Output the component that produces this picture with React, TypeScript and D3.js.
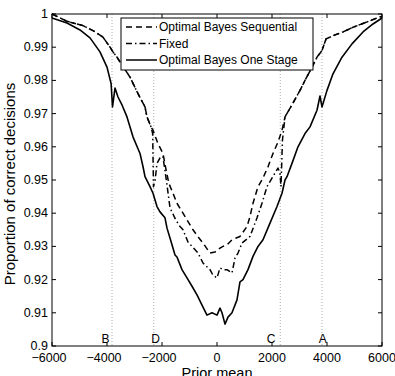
import React from 'react';
import * as d3 from 'd3';

// x positions of the prior mean thresholds and their letters
const thresholdValues = [-3818, -2300, 2300, 3818];
const thresholdLetters = [
  { label: 'B', x: -4050 },
  { label: 'D', x: -2230 },
  { label: 'C', x: 1970 },
  { label: 'A', x: 3850 },
];

const xTicks = [-6000, -4000, -2000, 0, 2000, 4000, 6000];
const yTicks = [0.9, 0.91, 0.92, 0.93, 0.94, 0.95, 0.96, 0.97, 0.98, 0.99, 1];

// Optimal Bayes sequential  [prior mean, proportion correct]
const sequential: [number, number][] = [
  [-6000, 1.0], [-5455, 0.9978], [-4873, 0.9965], [-4509, 0.995], [-4145, 0.993],
  [-3890, 0.99], [-3782, 0.9886], [-3636, 0.987], [-3455, 0.9846], [-3164, 0.981],
  [-2873, 0.976], [-2618, 0.972], [-2545, 0.969], [-2400, 0.966], [-2327, 0.965],
  [-2150, 0.961], [-1964, 0.958], [-1850, 0.953], [-1750, 0.949], [-1600, 0.946],
  [-1455, 0.943], [-1273, 0.9405], [-1091, 0.938], [-873, 0.935], [-700, 0.933],
  [-509, 0.931], [-255, 0.928], [-73, 0.9283], [109, 0.9295], [218, 0.93],
  [364, 0.9305], [545, 0.932], [836, 0.933], [1091, 0.936], [1200, 0.939],
  [1309, 0.943], [1491, 0.948], [1673, 0.9506], [1855, 0.954], [2036, 0.958],
  [2218, 0.9614], [2364, 0.965], [2473, 0.969], [2764, 0.9732], [3018, 0.977],
  [3200, 0.98], [3455, 0.984], [3636, 0.987], [3818, 0.989], [3964, 0.9925],
  [4291, 0.9937], [4582, 0.9946], [4945, 0.996], [5455, 0.9976], [5818, 0.9988],
  [6000, 0.9993],
];

// Fixed design
const fixed: [number, number][] = [
  [-6000, 1.0], [-5455, 0.9978], [-4873, 0.9965], [-4509, 0.995], [-4145, 0.993],
  [-3890, 0.99], [-3782, 0.9886], [-3636, 0.987], [-3455, 0.9846], [-3164, 0.981],
  [-2873, 0.976], [-2618, 0.972], [-2545, 0.969], [-2400, 0.966], [-2340, 0.964],
  [-2310, 0.948], [-2250, 0.95], [-2182, 0.955], [-2050, 0.957], [-1964, 0.957],
  [-1818, 0.9485], [-1709, 0.9416], [-1500, 0.938], [-1345, 0.936], [-1236, 0.935],
  [-1055, 0.9313], [-909, 0.93], [-691, 0.928], [-509, 0.925], [-255, 0.923],
  [-150, 0.9214], [0, 0.9205], [109, 0.9235], [218, 0.923], [364, 0.923],
  [545, 0.922], [655, 0.9265], [764, 0.928], [909, 0.931], [1200, 0.933],
  [1455, 0.9386], [1636, 0.943], [1818, 0.948], [2000, 0.9506], [2218, 0.9536],
  [2290, 0.952], [2327, 0.948], [2380, 0.962], [2473, 0.969], [2764, 0.9732],
  [3018, 0.977], [3200, 0.98], [3455, 0.984], [3636, 0.987], [3818, 0.989],
  [3964, 0.9925], [4291, 0.9937], [4582, 0.9946], [4945, 0.996], [5455, 0.9976],
  [5818, 0.9988], [6000, 0.9993],
];

// Optimal Bayes one stage
const oneStage: [number, number][] = [
  [-6000, 0.9988], [-5455, 0.9973], [-4982, 0.9952], [-4618, 0.9928], [-4255, 0.9886],
  [-4000, 0.984], [-3850, 0.979], [-3800, 0.972], [-3709, 0.9777], [-3600, 0.975],
  [-3455, 0.9726], [-3273, 0.969], [-3055, 0.963], [-2800, 0.958], [-2690, 0.954],
  [-2618, 0.951], [-2436, 0.948], [-2327, 0.946], [-2182, 0.942], [-2073, 0.9404],
  [-1891, 0.9386], [-1818, 0.9355], [-1709, 0.9325], [-1527, 0.9274], [-1455, 0.9268],
  [-1273, 0.923], [-1091, 0.9205], [-909, 0.918], [-727, 0.9154], [-545, 0.9123],
  [-364, 0.9093], [-182, 0.91], [0, 0.9093], [109, 0.9114], [182, 0.91],
  [291, 0.9066], [400, 0.9087], [545, 0.91], [727, 0.9139], [836, 0.9193],
  [945, 0.92], [1127, 0.923], [1309, 0.927], [1491, 0.93], [1673, 0.932],
  [1927, 0.937], [2182, 0.942], [2364, 0.946], [2473, 0.95], [2545, 0.951],
  [2727, 0.955], [2945, 0.96], [3200, 0.964], [3382, 0.966], [3636, 0.971],
  [3745, 0.9753], [3818, 0.972], [4000, 0.977], [4218, 0.982], [4545, 0.987],
  [4909, 0.991], [5309, 0.9946], [5673, 0.997], [6000, 0.9988],
];

const seriesNames = ['Optimal Bayes Sequential', 'Fixed', 'Optimal Bayes One Stage'];
const seriesDash = ['6,4', '6,3,1.5,3', null];

const width = 395;
const height = 376;
const plot = { left: 52, right: 382, top: 14, bottom: 346 };
const font = '"Liberation Sans", Arial, sans-serif';

const App = () => {
  const x = d3.scaleLinear().domain([-6000, 6000]).range([plot.left, plot.right]);
  const y = d3.scaleLinear().domain([0.9, 1]).range([plot.bottom, plot.top]);

  const line = d3.line<[number, number]>()
    .x(d => x(d[0]))
    .y(d => y(d[1]));

  const allSeries = [sequential, fixed, oneStage];
  const tickLen = 4;
  const fmtX = (v: number) => (v < 0 ? '\u2212' + Math.abs(v) : String(v));

  const legend = { x: 121, y: 18, w: 192, h: 52 };

  return (
    <svg
      width={width}
      height={height}
      style={{ position: 'absolute', left: 0, top: 0, background: '#fff' }}
      fontFamily={font}
    >
      <rect width={width} height={height} fill="#fff" />

      {/* threshold guides */}
      {thresholdValues.map(v => (
        <line
          key={v}
          x1={x(v)} x2={x(v)} y1={plot.top} y2={plot.bottom}
          stroke="#999" strokeWidth={0.8} strokeDasharray="1,2"
        />
      ))}
      {thresholdLetters.map(t => (
        <text key={t.label} x={x(t.x)} y={plot.bottom - 3} fontSize={12} textAnchor="middle">
          {t.label}
        </text>
      ))}

      {/* curves */}
      {allSeries.map((s, i) => (
        <path
          key={i}
          d={line(s) || ''}
          fill="none"
          stroke="#000"
          strokeWidth={i === 2 ? 1.6 : 1.5}
          strokeDasharray={seriesDash[i] || undefined}
          strokeLinejoin="round"
        />
      ))}

      {/* frame and inward ticks */}
      <rect
        x={plot.left} y={plot.top}
        width={plot.right - plot.left} height={plot.bottom - plot.top}
        fill="none" stroke="#000" strokeWidth={1}
      />
      {xTicks.map(v => (
        <g key={'x' + v}>
          <line x1={x(v)} x2={x(v)} y1={plot.bottom} y2={plot.bottom - tickLen} stroke="#000" />
          <line x1={x(v)} x2={x(v)} y1={plot.top} y2={plot.top + tickLen} stroke="#000" />
          <text x={x(v) - (v < 0 ? 3 : 0)} y={plot.bottom + 16} fontSize={12.5} textAnchor="middle">
            {fmtX(v)}
          </text>
        </g>
      ))}
      {yTicks.map(v => (
        <g key={'y' + v}>
          <line x1={plot.left} x2={plot.left + tickLen} y1={y(v)} y2={y(v)} stroke="#000" />
          <line x1={plot.right} x2={plot.right - tickLen} y1={y(v)} y2={y(v)} stroke="#000" />
          <text x={plot.left - 4} y={y(v) + 4} fontSize={12.5} textAnchor="end">
            {d3.format('~g')(v)}
          </text>
        </g>
      ))}

      {/* axis titles */}
      <text x={(plot.left + plot.right) / 2} y={378} fontSize={14.5} textAnchor="middle">
        Prior mean
      </text>
      <text
        transform={`translate(15,${(plot.top + plot.bottom) / 2 + 4}) rotate(-90)`}
        fontSize={15}
        textAnchor="middle"
      >
        Proportion of correct decisions
      </text>

      {/* legend */}
      <rect x={legend.x} y={legend.y} width={legend.w} height={legend.h} fill="#fff" stroke="#000" />
      {seriesNames.map((name, i) => {
        const ly = legend.y + 9 + i * 16.5;
        return (
          <g key={name}>
            <line
              x1={legend.x + 5} x2={legend.x + 36} y1={ly} y2={ly}
              stroke="#000" strokeWidth={1.5}
              strokeDasharray={seriesDash[i] || undefined}
            />
            <text x={legend.x + 38} y={ly + 4} fontSize={12}>
              {name}
            </text>
          </g>
        );
      })}
    </svg>
  );
};

export default App;
